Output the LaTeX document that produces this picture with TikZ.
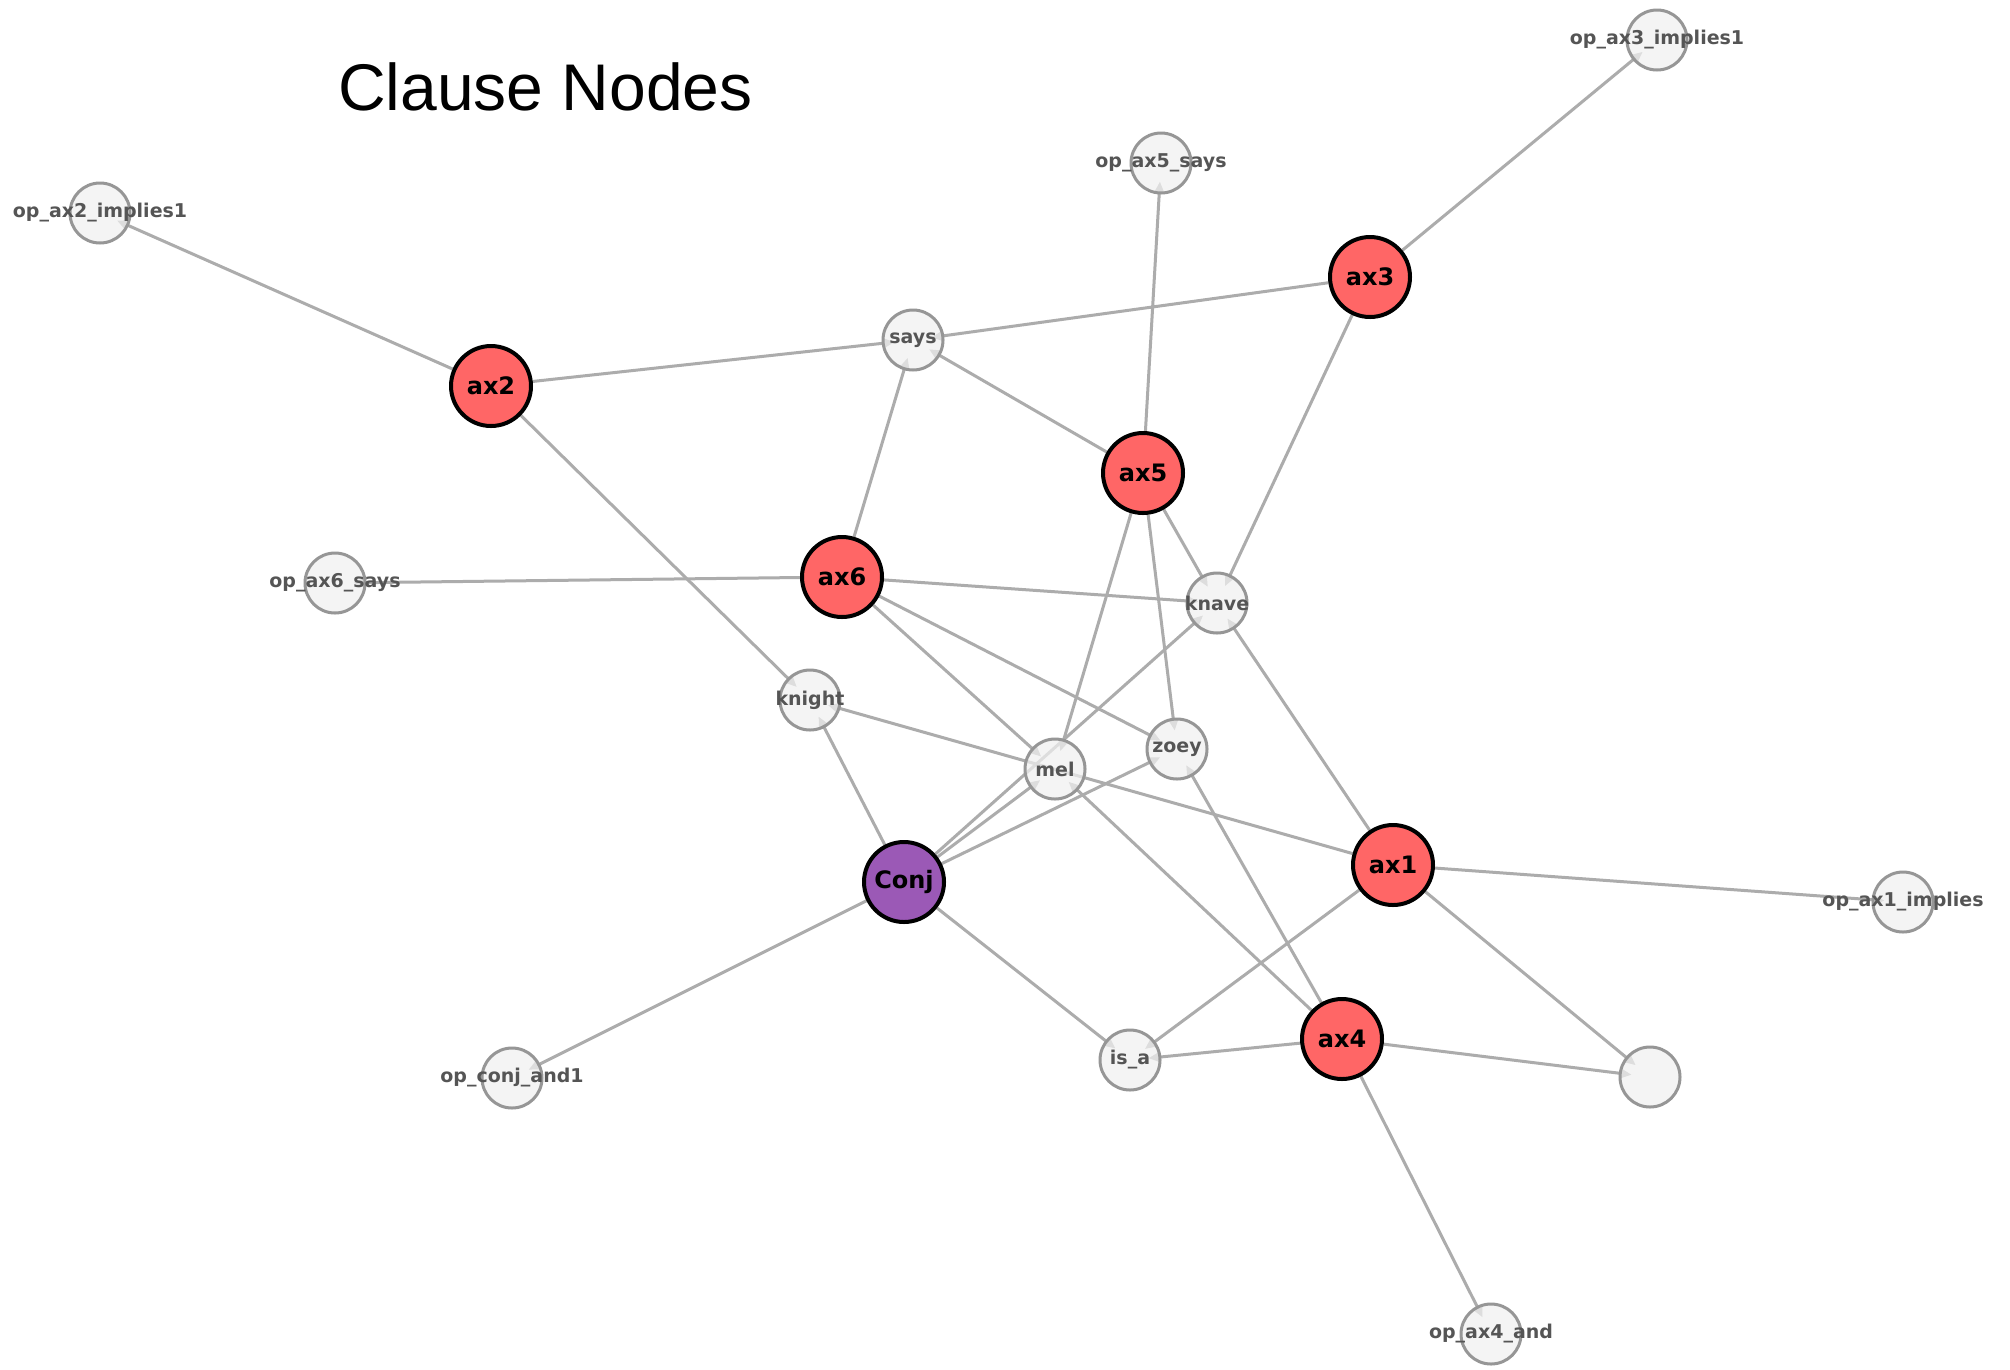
\documentclass[tikz,border=0pt]{standalone}
\usepackage{fontspec}
\setmainfont{DejaVu Sans}
\newfontfamily\titlefont{Liberation Sans}
\usetikzlibrary{arrows.meta}
\pgfdeclarelayer{bg}
\pgfdeclarelayer{edges}
\pgfsetlayers{bg,edges,main}
\definecolor{clausered}{RGB}{255,102,102}
\definecolor{conjpurple}{RGB}{155,89,182}
\definecolor{termfill}{RGB}{240,240,240}
\definecolor{termborder}{RGB}{150,150,150}
\definecolor{termtext}{RGB}{85,85,85}
\definecolor{edgegray}{RGB}{172,172,172}
\tikzset{
  clause/.style={circle, minimum size=80pt, inner sep=0pt, line width=4pt,
    draw=black, fill=clausered, font=\fontsize{24}{24}\selectfont\bfseries, text=black},
  conjnode/.style={clause, fill=conjpurple},
  termlabel/.style={inner sep=0pt, font=\fontsize{19}{19}\selectfont\bfseries, text=termtext},
  term/.style={circle, minimum size=60pt, inner sep=0pt, line width=3pt,
    draw=termborder, fill=termfill, fill opacity=0.72,
    label={[termlabel]center:#1}},
  term/.default={},
  link/.style={draw=edgegray, line width=3pt,
    -{Triangle[length=12pt,width=10pt]}, shorten >=-13pt}
}
\begin{document}
\begin{tikzpicture}[x=1pt,y=-1pt]
\useasboundingbox (0,0) rectangle (2010,1369);
\begin{pgfonlayer}{bg}
\fill[white] (0,0) rectangle (2010,1369);
\end{pgfonlayer}

\node[anchor=base west, inner sep=0pt, font=\titlefont\fontsize{66}{66}\selectfont] (title) at (338,110) {Clause Nodes};

% clause nodes
\node[clause] (ax1) at (1393,865) {ax1};
\node[clause] (ax2) at (491,386) {ax2};
\node[clause] (ax3) at (1370,277) {ax3};
\node[clause] (ax4) at (1342,1039) {ax4};
\node[clause] (ax5) at (1143,473) {ax5};
\node[clause] (ax6) at (842,577) {ax6};
\node[conjnode] (conj) at (904,882) {Conj};

% symbol and operator nodes
\node[term=op\_ax3\_implies1] (opax3) at (1657,40) {};
\node[term=op\_ax5\_says] (opax5) at (1161,163) {};
\node[term=op\_ax2\_implies1] (opax2) at (100,213) {};
\node[term=says] (says) at (913,340) {};
\node[term=op\_ax6\_says] (opax6) at (335,583) {};
\node[term=knave] (knave) at (1217,603) {};
\node[term=knight] (knight) at (810,700) {};
\node[term=zoey] (zoey) at (1177,749) {};
\node[term=mel] (mel) at (1055,769) {};
\node[term=op\_ax1\_implies] (opax1) at (1903,902) {};
\node[term=is\_a] (isa) at (1130,1060) {};
\node[term] (blank) at (1650,1077) {};
\node[term=op\_conj\_and1] (opconj) at (512,1078) {};
\node[term=op\_ax4\_and] (opax4) at (1491,1334) {};

\begin{pgfonlayer}{edges}
\foreach \s/\t in {ax3/opax3, ax5/opax5, ax2/opax2,
    ax2/says, ax3/says, ax5/says, ax6/says,
    ax3/knave, ax5/knave, ax6/knave, ax1/knave, conj/knave,
    ax6/opax6, ax2/knight, conj/knight, ax1/knight,
    ax4/mel, ax6/mel, ax5/mel, conj/mel,
    conj/zoey, ax6/zoey, ax5/zoey, ax4/zoey,
    conj/opconj, conj/isa, ax1/isa, ax4/isa,
    ax1/opax1, ax1/blank, ax4/blank, ax4/opax4}
  \draw[link] (\s) -- (\t);
\end{pgfonlayer}
\end{tikzpicture}
\end{document}
